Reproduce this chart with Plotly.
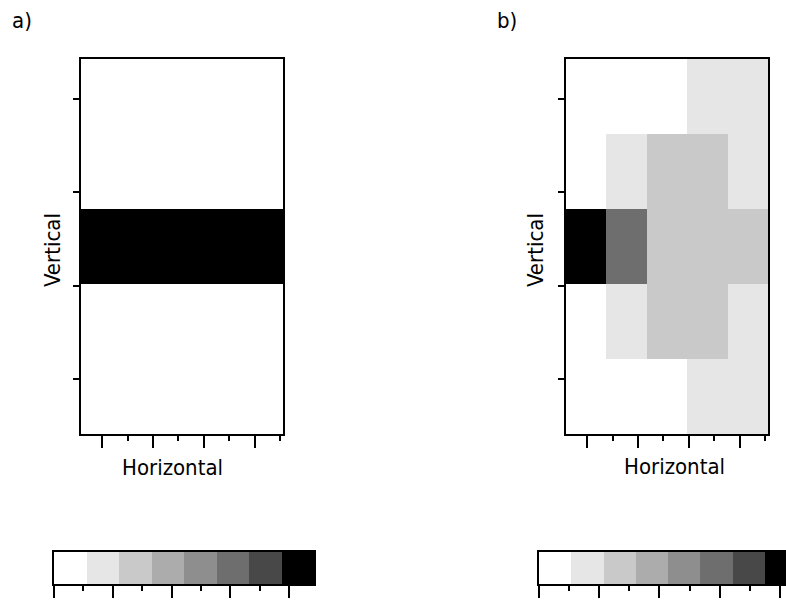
import plotly.graph_objects as go

# ---------------- data ----------------
# grey levels of the 8-step legend (white -> black)
levels = ["#ffffff", "#e6e6e6", "#c9c9c9", "#acacac",
          "#8e8e8e", "#6e6e6e", "#484848", "#000000"]
level_index = [0, 1, 2, 3, 4, 5, 6, 7]

# cell classes, rows listed top -> bottom, columns left -> right
panel_a = [
    [0, 0, 0, 0, 0],
    [0, 0, 0, 0, 0],
    [7, 7, 7, 7, 7],
    [0, 0, 0, 0, 0],
    [0, 0, 0, 0, 0],
]
panel_b = [
    [0, 0, 0, 1, 1],
    [0, 1, 2, 2, 1],
    [7, 5, 2, 2, 2],
    [0, 1, 2, 2, 1],
    [0, 0, 0, 1, 1],
]
col_centers = [0.5, 1.5, 2.5, 3.5, 4.5]
row_centers = [0.5, 1.5, 2.5, 3.5, 4.5]
panel_labels = ["a)", "b)"]
x_title = "Horizontal"
y_title = "Vertical"

# ---------------- figure ----------------
W, H = 786, 602


def xd(p0, p1):
    return [p0 / W, p1 / W]


def yd(p0, p1):  # p0 top px, p1 bottom px
    return [1 - p1 / H, 1 - p0 / H]


cs = []
n = len(levels)
for i, c in enumerate(levels):
    cs.append([i / n, c])
    cs.append([(i + 1) / n, c])

fig = go.Figure()

font = dict(family="DejaVu Sans Condensed, Liberation Sans Narrow, DejaVu Sans",
            size=22, color="black")

main_axes = [("x", "y", panel_a, xd(81, 283)),
             ("x2", "y2", panel_b, xd(566, 768))]
for xa, ya, grid, dom in main_axes:
    fig.add_trace(go.Heatmap(
        z=grid[::-1], x=col_centers, y=row_centers,
        colorscale=cs, zmin=-0.5, zmax=7.5, showscale=False,
        xaxis=xa, yaxis=ya, hoverinfo="skip"))

# legends (colour bars)
bar_axes = [("x3", "y3", xd(54, 314), [0, 8], 1.81, True),
            ("x4", "y4", xd(539, 786), [0, (786 - 539) / 32.3], 1.865, False)]
for xa, ya, dom, rng, dt, mir in bar_axes:
    fig.add_trace(go.Heatmap(
        z=[level_index], x=[i + 0.5 for i in level_index], y=[0.5],
        colorscale=cs, zmin=-0.5, zmax=7.5, showscale=False,
        xaxis=xa, yaxis=ya, hoverinfo="skip"))

common = dict(showgrid=False, zeroline=False, showticklabels=False,
              showline=True, linecolor="black", linewidth=2,
              ticks="outside", tickcolor="black", tickwidth=2)

lay = dict(width=W, height=H, margin=dict(l=0, r=0, t=0, b=0),
           paper_bgcolor="white", plot_bgcolor="white", showlegend=False)

for k, (xa, ya, grid, dom) in enumerate(main_axes):
    xk = "xaxis" if k == 0 else "xaxis2"
    yk = "yaxis" if k == 0 else "yaxis2"
    lay[xk] = dict(common, domain=dom, range=[0, 5], mirror=True,
                   anchor=ya, tickmode="linear", tick0=0.52, dtick=1.262,
                   ticklen=12,
                   minor=dict(ticks="outside", tick0=0.52, dtick=0.631,
                              ticklen=5, tickwidth=2, tickcolor="black",
                              showgrid=False))
    lay[yk] = dict(common, domain=yd(59, 434), range=[0, 5], mirror=True,
                   anchor=xa, tickmode="linear", tick0=0.733, dtick=1.245,
                   ticklen=6)

for k, (xa, ya, dom, rng, dt, mir) in enumerate(bar_axes):
    xk = "xaxis3" if k == 0 else "xaxis4"
    yk = "yaxis3" if k == 0 else "yaxis4"
    lay[xk] = dict(common, domain=dom, range=rng, mirror=True, anchor=ya,
                   tickmode="linear", tick0=0, dtick=dt, ticklen=12,
                   minor=dict(ticks="outside", tick0=0, dtick=dt / 2,
                              ticklen=5, tickwidth=2, tickcolor="black",
                              showgrid=False))
    lay[yk] = dict(common, domain=yd(552, 584), range=[0, 1], mirror=mir,
                   anchor=xa, ticks="")

fig.update_layout(**lay)

ann = []
ann.append(dict(text=panel_labels[0], x=22 / W, y=1 - 21 / H))
ann.append(dict(text=panel_labels[1], x=507 / W, y=1 - 21 / H))
ann.append(dict(text=x_title, x=172 / W, y=1 - 467 / H))
ann.append(dict(text=x_title, x=674 / W, y=1 - 466 / H))
ann.append(dict(text=y_title, x=53 / W, y=1 - 250 / H, textangle=-90))
ann.append(dict(text=y_title, x=536 / W, y=1 - 250 / H, textangle=-90))
for a in ann:
    a.update(xref="paper", yref="paper", showarrow=False, font=font,
             xanchor="center", yanchor="middle")
fig.update_layout(annotations=ann)

fig.write_html(
    "out.html",
    config={"displayModeBar": False, "staticPlot": True},
    post_script="document.body.style.margin='0';"
                "document.body.style.overflow='hidden';")
